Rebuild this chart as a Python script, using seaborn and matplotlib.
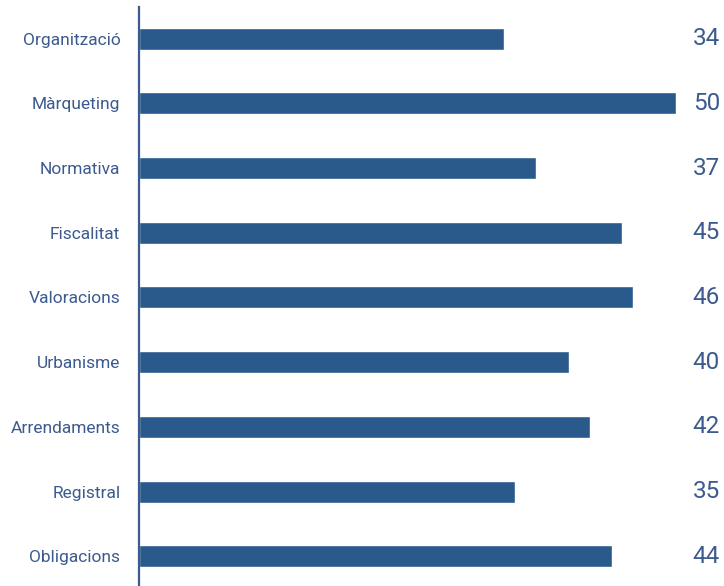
import matplotlib
matplotlib.use("Agg")
import matplotlib.pyplot as plt
import seaborn as sns
import pandas as pd

sns.set_style("white")
plt.rcParams['font.family'] = ['Roboto', 'DejaVu Sans']

categories = ["Organització", "Màrqueting", "Normativa", "Fiscalitat", "Valoracions",
              "Urbanisme", "Arrendaments", "Registral", "Obligacions"]
values = [34, 50, 37, 45, 46, 40, 42, 35, 44]

df = pd.DataFrame({"tema": categories, "valor": values})

bar_color = "#2A5A8B"
text_color = "#3C5A8E"

fig = plt.figure(figsize=(7.24, 5.86), dpi=100)
ax = fig.add_axes([139 / 724, 0, (676 - 139) / 724, (586 - 7) / 586])

sns.barplot(data=df, x="valor", y="tema", color=bar_color, width=0.34,
            saturation=1, ax=ax)

ax.set_xlim(0, 50)
ax.set_ylim(8.46, -0.49)
ax.set_xlabel("")
ax.set_ylabel("")
ax.set_xticks([])
ax.tick_params(axis="y", length=0, pad=13.5, labelsize=12.5, labelcolor=text_color)

for s in ["top", "right", "bottom"]:
    ax.spines[s].set_visible(False)
ax.spines["left"].set_color(text_color)
ax.spines["left"].set_linewidth(1.6)

for i, v in enumerate(values):
    ax.text(1.0 + 44 / 537, i, str(v), transform=ax.get_yaxis_transform(),
            ha="right", va="center", fontsize=17.5, color=text_color, clip_on=False)

fig.savefig("out.png", dpi=100)
